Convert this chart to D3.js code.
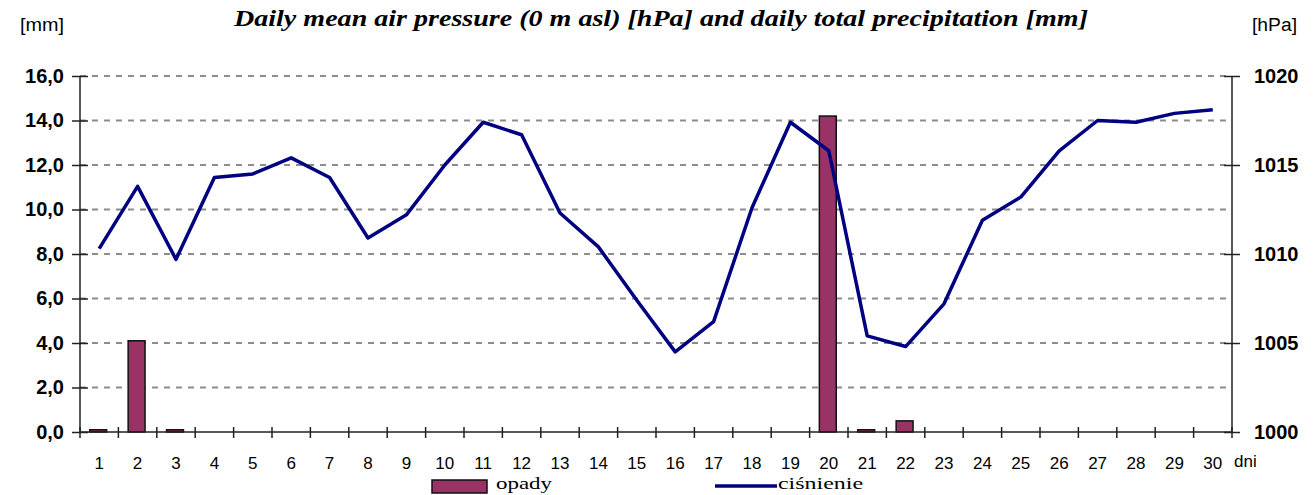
<!DOCTYPE html>
<html>
<head>
<meta charset="utf-8">
<script src="https://cdn.jsdelivr.net/npm/d3@7"></script>
<style>
  body { margin: 0; background: #fff; }
  svg { display: block; }
</style>
</head>
<body>
<div id="chart"></div>
<script>
// ---------------------------------------------------------
// data
// ---------------------------------------------------------
const days = d3.range(1, 31);
const precipitation = [0.1, 4.1, 0.1, 0, 0, 0, 0, 0, 0, 0, 0, 0, 0, 0, 0,
                       0, 0, 0, 0, 14.2, 0.1, 0.5, 0, 0, 0, 0, 0, 0, 0, 0];
const pressure = [1010.3, 1013.8, 1009.7, 1014.3, 1014.5, 1015.4, 1014.3, 1010.9, 1012.2, 1015.0,
                  1017.4, 1016.7, 1012.3, 1010.4, 1007.4, 1004.5, 1006.2, 1012.6, 1017.4, 1015.8,
                  1005.4, 1004.8, 1007.2, 1011.9, 1013.2, 1015.8, 1017.5, 1017.4, 1017.9, 1018.1];
const mmTicks = [0, 2, 4, 6, 8, 10, 12, 14, 16];
const hpaTicks = [1000, 1005, 1010, 1015, 1020];

// ---------------------------------------------------------
// setup
// ---------------------------------------------------------
const width = 1314, height = 495;
const margin = { top: 76, right: 82, bottom: 63, left: 80 };
const plotW = width - margin.left - margin.right;
const plotH = height - margin.top - margin.bottom;

const sans = "Liberation Sans, Arial, sans-serif";
const serif = "Liberation Serif, Times New Roman, serif";

const svg = d3.select("#chart").append("svg")
    .attr("width", width)
    .attr("height", height);

const g = svg.append("g")
    .attr("transform", `translate(${margin.left},${margin.top})`);

const x = d3.scaleBand().domain(days).range([0, plotW]);
const yMm = d3.scaleLinear().domain([0, 16]).range([plotH, 0]);
const yHpa = d3.scaleLinear().domain([1000, 1020]).range([plotH, 0]);

// grid
g.selectAll(".grid")
    .data(mmTicks.filter(d => d > 0))
    .enter().append("line")
    .attr("x1", 0).attr("x2", plotW)
    .attr("y1", d => yMm(d)).attr("y2", d => yMm(d))
    .attr("stroke", "#8c8c8c")
    .attr("stroke-width", 2)
    .attr("stroke-dasharray", "6,6");

// bars
const barW = x.bandwidth() * 0.44;
g.selectAll(".bar")
    .data(precipitation.map((v, i) => ({ day: days[i], v })).filter(d => d.v > 0))
    .enter().append("rect")
    .attr("x", d => x(d.day) + x.bandwidth() / 2 - barW / 2 - 1)
    .attr("y", d => yMm(d.v))
    .attr("width", barW)
    .attr("height", d => yMm(0) - yMm(d.v))
    .attr("fill", "#993366")
    .attr("stroke", "#111")
    .attr("stroke-width", 1.5);

// pressure line
const line = d3.line()
    .x((d, i) => x(days[i]) + x.bandwidth() / 2)
    .y(d => yHpa(d));

g.append("path")
    .datum(pressure)
    .attr("d", line)
    .attr("fill", "none")
    .attr("stroke", "#000080")
    .attr("stroke-width", 3.5)
    .attr("stroke-linejoin", "round");

// axes
const leftAxis = d3.axisLeft(yMm).tickValues(mmTicks)
    .tickFormat(d => d3.format(".1f")(d).replace(".", ","))
    .tickSize(8).tickPadding(8);
const la = g.append("g").call(leftAxis);

const rightAxis = d3.axisRight(yHpa).tickValues(hpaTicks)
    .tickFormat(d => String(d))
    .tickSize(8).tickPadding(14);
const ra = g.append("g").attr("transform", `translate(${plotW},0)`).call(rightAxis);

[la, ra].forEach(a => {
    a.select(".domain").attr("stroke", "#222").attr("stroke-width", 1.5);
    a.selectAll(".tick line").attr("stroke", "#222").attr("stroke-width", 1.5);
    a.selectAll(".tick text")
        .attr("font-family", sans)
        .attr("font-weight", "bold")
        .attr("font-size", 20)
        .attr("fill", "#000");
});
// inner part of y ticks
la.selectAll(".tick line").attr("x1", 8);
ra.selectAll(".tick line").attr("x1", -8);
la.select(".domain").attr("d", `M0,0V${plotH}`);
ra.select(".domain").attr("d", `M0,0V${plotH}`);

// bottom axis with ticks between days
const xa = g.append("g").attr("transform", `translate(0,${plotH})`);
xa.append("line")
    .attr("x1", 0).attr("x2", plotW)
    .attr("stroke", "#222").attr("stroke-width", 1.5);
xa.selectAll(".xt")
    .data(days.concat([31]))
    .enter().append("line")
    .attr("x1", d => d <= 30 ? x(d) : plotW)
    .attr("x2", d => d <= 30 ? x(d) : plotW)
    .attr("y1", -5).attr("y2", 6)
    .attr("stroke", "#222").attr("stroke-width", 1.5);
xa.selectAll(".xl")
    .data(days)
    .enter().append("text")
    .attr("x", d => x(d) + x.bandwidth() / 2)
    .attr("y", 37)
    .attr("text-anchor", "middle")
    .attr("font-family", sans)
    .attr("font-size", 17)
    .text(d => d);

// labels
svg.append("text")
    .attr("x", 234).attr("y", 26)
    .attr("font-family", serif)
    .attr("font-style", "italic")
    .attr("font-weight", "bold")
    .attr("font-size", 24)
    .attr("textLength", 854)
    .attr("lengthAdjust", "spacingAndGlyphs")
    .text("Daily mean air pressure (0 m asl) [hPa] and daily total precipitation [mm]");

svg.append("text")
    .attr("x", 20).attr("y", 31)
    .attr("font-family", sans).attr("font-size", 18)
    .attr("textLength", 44).attr("lengthAdjust", "spacingAndGlyphs")
    .text("[mm]");

svg.append("text")
    .attr("x", 1252).attr("y", 31)
    .attr("font-family", sans).attr("font-size", 18)
    .attr("textLength", 45).attr("lengthAdjust", "spacingAndGlyphs")
    .text("[hPa]");

svg.append("text")
    .attr("x", 1234).attr("y", 467)
    .attr("font-family", sans).attr("font-size", 17)
    .text("dni");

// legend
const leg = svg.append("g").attr("font-family", serif).attr("font-size", 17);
leg.append("rect")
    .attr("x", 432).attr("y", 480).attr("width", 55).attr("height", 13)
    .attr("fill", "#993366").attr("stroke", "#111").attr("stroke-width", 1.5);
leg.append("text").attr("x", 496).attr("y", 489)
    .attr("textLength", 56).attr("lengthAdjust", "spacingAndGlyphs")
    .text("opady");
leg.append("line")
    .attr("x1", 715).attr("x2", 777).attr("y1", 486).attr("y2", 486)
    .attr("stroke", "#000080").attr("stroke-width", 3.5);
leg.append("text").attr("x", 778).attr("y", 489)
    .attr("textLength", 85).attr("lengthAdjust", "spacingAndGlyphs")
    .text("ciśnienie");
</script>
</body>
</html>
